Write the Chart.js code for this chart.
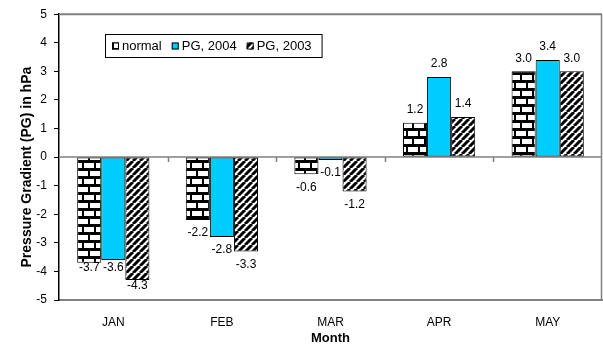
<!DOCTYPE html>
<html>
<head>
<meta charset="utf-8">
<title>Pressure Gradient</title>
<script src="https://cdn.jsdelivr.net/npm/chart.js@4/dist/chart.umd.min.js"></script>
<style>
  html, body { margin: 0; padding: 0; background: #fff; }
  #wrap { width: 603px; height: 346px; }
</style>
</head>
<body>
<div id="wrap"><canvas id="pgChart" width="603" height="346"></canvas></div>
<script>
"use strict";

// data
const months = ["JAN", "FEB", "MAR", "APR", "MAY"];
const normal = [-3.7, -2.2, -0.6, 1.2, 3.0];
const pg2004 = [-3.6, -2.8, -0.1, 2.8, 3.4];
const pg2003 = [-4.3, -3.3, -1.2, 1.4, 3.0];
const seriesNames = ["normal", "PG, 2004", "PG, 2003"];
const yTicks = [-5, -4, -3, -2, -1, 0, 1, 2, 3, 4, 5];
const yTitle = "Pressure Gradient (PG) in hPa";

const FONT = "'Liberation Sans', Arial, sans-serif";

let canvas = document.getElementById("pgChart");
let ctx = canvas.getContext("2d");

// brick fill for "normal"
function brickPattern() {
  let c = document.createElement("canvas");
  c.width = 12;
  c.height = 16;
  let g = c.getContext("2d");
  g.fillStyle = "#000";
  g.fillRect(0, 0, 12, 16);
  g.fillStyle = "#fff";
  g.fillRect(0, 3, 10, 5);
  g.fillRect(0, 11, 4, 5);
  g.fillRect(6, 11, 6, 5);
  return ctx.createPattern(c, "repeat");
}

// diagonal stripes for 2003
function stripePattern() {
  let s = 7;
  let c = document.createElement("canvas");
  c.width = s;
  c.height = s;
  let g = c.getContext("2d");
  g.fillStyle = "#fff";
  g.fillRect(0, 0, s, s);
  g.strokeStyle = "#000";
  g.lineWidth = 3;
  for (let k = -s; k <= s; k += s) {
    g.beginPath();
    g.moveTo(k, s);
    g.lineTo(k + s, 0);
    g.stroke();
  }
  return ctx.createPattern(c, "repeat");
}

// plot frame, zero line with category ticks, y title
const framePlugin = {
  id: "frame",
  beforeDatasetsDraw(chart) {
    let a = chart.chartArea;
    let y0 = chart.scales.y.getPixelForValue(0);
    let xs = chart.scales.x;
    let c = chart.ctx;
    c.save();
    c.strokeStyle = "#808080";
    c.lineWidth = 1.5;
    c.beginPath();
    c.moveTo(a.left, y0);
    c.lineTo(a.right, y0);
    for (let i = 1; i < months.length; i++) {
      let x = Math.round(xs.getPixelForValue(i - 0.5)) + 0.5;
      c.moveTo(x, y0);
      c.lineTo(x, y0 + 5);
    }
    c.stroke();
    c.restore();
  },
  afterDraw(chart) {
    let a = chart.chartArea;
    let c = chart.ctx;
    c.save();
    c.strokeStyle = "#808080";
    c.lineWidth = 2;
    c.beginPath();
    c.moveTo(a.left, a.top);
    c.lineTo(a.right, a.top);
    c.stroke();
    c.lineWidth = 1.5;
    c.beginPath();
    c.moveTo(a.right - 0.5, a.top);
    c.lineTo(a.right - 0.5, a.bottom);
    c.stroke();

    // rotated axis title, sits a little above the middle like the original
    c.translate(27.5, chart.scales.y.getPixelForValue(-0.35));
    c.rotate(-Math.PI / 2);
    c.font = "bold 14px " + FONT;
    c.fillStyle = "#000";
    c.textAlign = "center";
    c.textBaseline = "middle";
    c.fillText(yTitle, 0, 0);
    c.restore();
  }
};

// value labels outside the bar ends
const labelNudge = { "0,0": 8, "1,0": 5, "2,0": 7 };
const valueLabels = {
  id: "valueLabels",
  afterDatasetsDraw(chart) {
    let c = chart.ctx;
    c.save();
    c.font = "12px " + FONT;
    c.fillStyle = "#000";
    c.textAlign = "center";
    c.textBaseline = "middle";
    chart.data.datasets.forEach((ds, d) => {
      let meta = chart.getDatasetMeta(d);
      meta.data.forEach((bar, i) => {
        let v = ds.data[i];
        let off = 13 - (labelNudge[d + "," + i] || 0);
        let y = v < 0 ? bar.y + off : bar.y - off;
        c.fillText(v.toFixed(1), bar.x, y);
      });
    });
    c.restore();
  }
};

// boxed legend inside the plot
const boxLegend = {
  id: "boxLegend",
  afterDraw(chart) {
    let c = chart.ctx;
    c.save();
    c.font = "13px " + FONT;
    c.textBaseline = "middle";
    let left = 105, top = 34, h = 23;
    let box = 7;
    let x = left + 7;
    let items = [];
    chart.data.datasets.forEach((ds) => {
      items.push({ x: x, ds: ds });
      x += box + 3 + c.measureText(ds.label).width + 10;
    });
    let w = x - left;
    c.fillStyle = "#fff";
    c.fillRect(left, top, w, h);
    c.strokeStyle = "#000";
    c.lineWidth = 1;
    c.strokeRect(left + 0.5, top + 0.5, w, h);
    let cy = top + h / 2 + 0.5;
    items.forEach((it) => {
      c.fillStyle = it.ds.backgroundColor;
      c.fillRect(it.x, cy - box / 2, box, box);
      c.strokeStyle = "#000";
      c.strokeRect(it.x + 0.5, cy - box / 2 + 0.5, box - 1, box - 1);
      c.fillStyle = "#000";
      c.fillText(it.ds.label, it.x + box + 3, cy);
    });
    c.restore();
  }
};

let pgChart = new Chart(canvas, {
  type: "bar",
  data: {
    labels: months,
    datasets: [
      { label: seriesNames[0], data: normal, backgroundColor: brickPattern() },
      { label: seriesNames[1], data: pg2004, backgroundColor: "#00ccff" },
      { label: seriesNames[2], data: pg2003, backgroundColor: stripePattern() }
    ]
  },
  options: {
    responsive: false,
    animation: false,
    devicePixelRatio: 1,
    layout: { padding: { left: 0, right: 1, top: 13, bottom: 0 } },
    datasets: {
      bar: {
        categoryPercentage: 0.665,
        barPercentage: 1.0,
        borderColor: "#000",
        borderWidth: 1,
        borderSkipped: false
      }
    },
    plugins: {
      legend: { display: false },
      tooltip: { enabled: false }
    },
    scales: {
      x: {
        grid: { display: false },
        border: { display: true, color: "#808080", width: 2 },
        ticks: {
          color: "#000",
          font: { family: FONT, size: 12 },
          padding: 7,
          maxRotation: 0
        },
        title: {
          display: true,
          text: "Month",
          color: "#000",
          font: { family: FONT, size: 13, weight: "bold" },
          padding: { top: 0, bottom: 0 }
        },
        afterFit(scale) { scale.height = 46; }
      },
      y: {
        min: yTicks[0],
        max: yTicks[yTicks.length - 1],
        afterBuildTicks(scale) {
          scale.ticks = yTicks.map((v) => ({ value: v }));
        },
        grid: {
          drawOnChartArea: false,
          drawTicks: true,
          tickLength: 5,
          tickColor: "#000"
        },
        border: { display: true, color: "#000", width: 1.5 },
        ticks: {
          color: "#000",
          font: { family: FONT, size: 12 },
          padding: 7
        },
        afterFit(scale) { scale.width = 59; }
      }
    }
  },
  plugins: [framePlugin, valueLabels, boxLegend]
});
</script>
</body>
</html>
